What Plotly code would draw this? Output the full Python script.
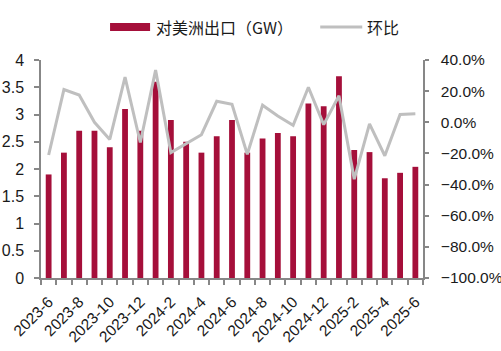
import plotly.graph_objects as go

months = ["2023-6", "2023-7", "2023-8", "2023-9", "2023-10", "2023-11", "2023-12",
          "2024-1", "2024-2", "2024-3", "2024-4", "2024-5", "2024-6", "2024-7",
          "2024-8", "2024-9", "2024-10", "2024-11", "2024-12", "2025-1", "2025-2",
          "2025-3", "2025-4", "2025-5", "2025-6"]
export_gw = [1.9, 2.3, 2.7, 2.7, 2.4, 3.1, 2.7, 3.6, 2.9, 2.5, 2.3, 2.6, 2.9, 2.3,
             2.56, 2.66, 2.6, 3.2, 3.15, 3.7, 2.35, 2.31, 1.83, 1.93, 2.04]
mom = [-0.21, 0.21, 0.175, 0.0, -0.11, 0.29, -0.13, 0.335, -0.195, -0.14, -0.08,
       0.135, 0.115, -0.205, 0.11, 0.04, -0.02, 0.225, -0.015, 0.17, -0.365,
       -0.01, -0.215, 0.05, 0.055]
series_names = ["对美洲出口（GW）", "环比"]

W, H = 501, 351
L, R, T, B = 41, 422.7, 60, 278.3
FONT = "'Liberation Sans', Arial, 'Noto Sans CJK SC', sans-serif"
CJK_FONT = "'Noto Sans CJK SC', 'Liberation Sans', sans-serif"
BAR_COLOR = "#A50F3A"
LINE_COLOR = "#BFBFBF"
AXIS_COLOR = "#878787"
TEXT_COLOR = "#1a1a1a"

def px(x):
    return (x - L) / (R - L)

def py(y):
    return (B - y) / (B - T)

xs = list(range(len(months)))

fig = go.Figure()
fig.add_trace(go.Bar(x=xs, y=export_gw, name=series_names[0], marker_color=BAR_COLOR,
                     marker_line_width=0, width=0.38, showlegend=False))
fig.add_trace(go.Scatter(x=xs, y=mom, name=series_names[1], yaxis="y2", mode="lines",
                         line=dict(color=LINE_COLOR, width=3), showlegend=False))

fig.update_layout(
    template="none",
    width=W, height=H,
    margin=dict(l=L, r=W - R, t=T, b=H - B, pad=0),
    paper_bgcolor="white", plot_bgcolor="white",
    font=dict(family=FONT, size=16, color=TEXT_COLOR),
    xaxis=dict(
        automargin=False,
        range=[-0.5, len(months) - 0.5],
        tickmode="array", tickvals=xs[::2], ticktext=months[::2],
        tickangle=-45, ticks="", showgrid=False, zeroline=False,
        showline=True, linecolor=AXIS_COLOR, linewidth=1.5,
        tickfont=dict(size=15.5),
        minor=dict(tickmode="linear", tick0=-0.5, dtick=1, ticks="outside",
                   ticklen=5, tickcolor=AXIS_COLOR, tickwidth=1.5, showgrid=False),
        ticklabelstandoff=7,
    ),
    yaxis=dict(
        automargin=False,
        range=[0, 4], dtick=0.5, tick0=0, showgrid=False, zeroline=False,
        showline=True, linecolor=AXIS_COLOR, linewidth=1.5,
        ticks="outside", ticklen=5, tickcolor=AXIS_COLOR, tickwidth=1.5,
        ticklabelstandoff=7,
    ),
    yaxis2=dict(
        automargin=False,
        range=[-1, 0.4], dtick=0.2, tick0=-1, tickformat=".1%", overlaying="y",
        side="right", showgrid=False, zeroline=False,
        showline=True, linecolor=AXIS_COLOR, linewidth=1.5,
        ticks="outside", ticklen=4, tickcolor=AXIS_COLOR, tickwidth=1.5,
        ticklabelstandoff=9, tickfont=dict(size=15.5),
    ),
)

# manual legend
ly = 27
fig.add_shape(type="rect", xref="paper", yref="paper",
              x0=px(110), x1=px(150), y0=py(31), y1=py(23),
              fillcolor=BAR_COLOR, line_width=0)
fig.add_annotation(xref="paper", yref="paper", x=px(154), y=py(ly), text=series_names[0],
                   showarrow=False, xanchor="left", yanchor="middle",
                   font=dict(size=16, color=TEXT_COLOR, family=CJK_FONT))
fig.add_shape(type="line", xref="paper", yref="paper",
              x0=px(320), x1=px(362), y0=py(ly), y1=py(ly),
              line=dict(color=LINE_COLOR, width=3))
fig.add_annotation(xref="paper", yref="paper", x=px(365), y=py(ly), text=series_names[1],
                   showarrow=False, xanchor="left", yanchor="middle",
                   font=dict(size=16, color=TEXT_COLOR, family=CJK_FONT))

fig.write_html("out.html")
